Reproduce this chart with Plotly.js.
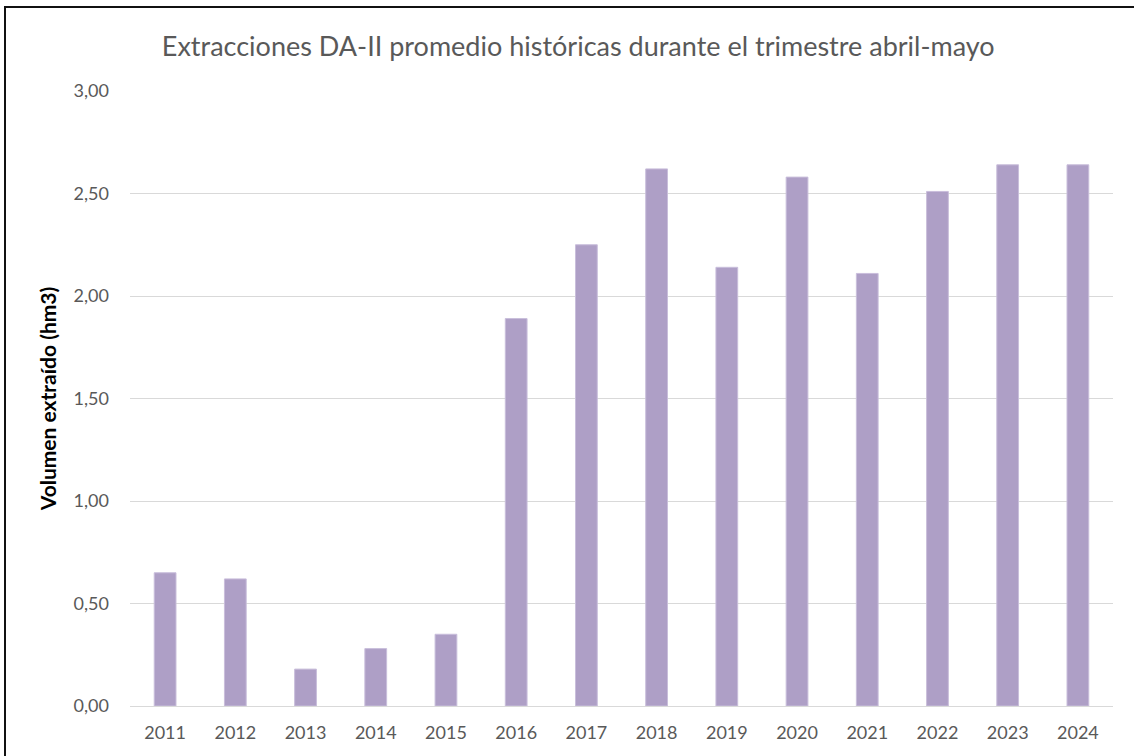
<!DOCTYPE html>
<html>
<head>
<meta charset="utf-8">
<script src="https://cdn.plot.ly/plotly-3.0.1.min.js"></script>
<style>
  body { margin: 0; background: #fff; }
  #frame {
    position: absolute; left: 4px; top: 6px; width: 1130px; height: 750px;
    border-left: 2px solid #111; border-top: 2px solid #111;
  }
  #myDiv { position: absolute; left: 0; top: 0; }
</style>
</head>
<body>
<div id="myDiv"></div>
<div id="frame"></div>
<script>
var years = ["2011", "2012", "2013", "2014", "2015", "2016", "2017",
             "2018", "2019", "2020", "2021", "2022", "2023", "2024"];
var volumen = [0.65, 0.62, 0.18, 0.28, 0.35, 1.89, 2.25,
               2.62, 2.14, 2.58, 2.11, 2.51, 2.64, 2.64];

var bars = {
  x: years,
  y: volumen,
  type: "bar",
  marker: {
    color: "#ae9fc6",
    line: { color: "#c9bedb", width: 1 },
  },
  hoverinfo: "x+y",
};

var layout = {
  width: 1134,
  height: 756,
  margin: { l: 130, r: 21, t: 91, b: 50 },
  paper_bgcolor: "#fff",
  plot_bgcolor: "#fff",
  separators: ",.",
  font: { family: "Lato, 'Open Sans', sans-serif", color: "#595959" },
  title: {
    text: "Extracciones DA-II promedio históricas durante el trimestre abril-mayo",
    font: { size: 27, color: "#595959" },
    xref: "paper", x: 0.456, xanchor: "center",
    yref: "container", y: 0.938, yanchor: "middle",
  },
  bargap: 0.69,
  showlegend: false,
  xaxis: {
    type: "category",
    showgrid: false,
    zeroline: false,
    showline: false,
    ticks: "",
    ticklabelstandoff: 14,
    tickfont: { size: 18, color: "#595959" },
  },
  yaxis: {
    range: [0, 3],
    dtick: 0.5,
    tickformat: ".2f",
    showgrid: true,
    gridcolor: "#d9d9d9",
    gridwidth: 1,
    zeroline: true,
    zerolinecolor: "#d9d9d9",
    zerolinewidth: 1,
    showline: false,
    ticks: "",
    ticklabelstandoff: 20,
    tickfont: { size: 18, color: "#595959" },
    title: {
      text: "<b>Volumen extraído (hm3)</b>",
      font: { size: 21, color: "#000" },
      standoff: 11,
    },
  },
};

var config = { displayModeBar: false, staticPlot: true };

Plotly.newPlot("myDiv", [bars], layout, config);
</script>
</body>
</html>
